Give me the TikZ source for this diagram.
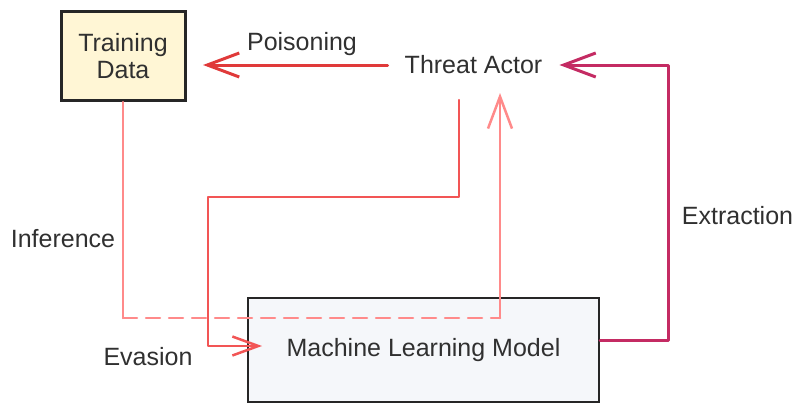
\documentclass[tikz,border=0pt]{standalone}
\usepackage{fontspec}
\setmainfont{Liberation Sans}
\usetikzlibrary{arrows.meta}
\definecolor{txt}{HTML}{303030}
\definecolor{poisoncol}{HTML}{E03A3A}
\definecolor{extractcol}{HTML}{C42B63}
\definecolor{evasioncol}{HTML}{F25555}
\definecolor{infercol}{HTML}{FF8A8A}
\definecolor{tdfill}{HTML}{FFF6D5}
\definecolor{mlfill}{HTML}{F5F7FA}
\tikzset{
  lbl/.style={text=txt, font=\fontsize{25}{30}\selectfont, inner sep=0pt},
  boxnode/.style={draw=black!85, text=txt, font=\fontsize{25}{30}\selectfont, align=center, inner sep=0pt},
  conn/.style={line cap=round, line join=round},
  bigtip/.style={-{Straight Barb[length=32pt,width=24pt]}},
  smalltip/.style={-{Straight Barb[length=26pt,width=19pt]}},
}
\begin{document}
\begin{tikzpicture}[x=1pt,y=-1pt]
\useasboundingbox (0,0) rectangle (794,404);
% nodes
\node[boxnode, fill=tdfill, line width=3pt, minimum width=124pt, minimum height=89pt] (td) at (123,56) {Training\\[-3pt]Data};
\node[lbl, inner xsep=17pt, inner ysep=10pt] (ta) at (473.5,65) {Threat Actor};
\node[boxnode, fill=mlfill, line width=2pt, minimum width=351pt, minimum height=104pt] (ml) at (423.5,350) {\raisebox{3pt}{Machine Learning Model}};
% labels
\node[lbl] (lpois) at (302,44) {Poisoning};
\node[lbl] (lext) at (737.5,216) {Extraction};
\node[lbl] (levas) at (148,357) {Evasion};
\node[lbl] (linf) at (63,239) {Inference};
% helper coordinates
\coordinate (ptip) at (203,0);
\coordinate (ex1) at (668,0);
\coordinate (ev1) at (459,100);
\coordinate (ev2) at (459,197);
\coordinate (ev3) at (208,197);
\coordinate (in1) at (123,318);
\coordinate (in2) at (500,318);
\coordinate (intip) at (500,93);
% Poisoning
\draw[conn, bigtip, poisoncol, line width=3pt] (ta.west) -- (ta.west -| ptip);
% Extraction
\draw[conn, bigtip, extractcol, line width=3pt] ([yshift=10pt]ml.east) -- ([yshift=10pt]ml.east -| ex1) -- (ta.east -| ex1) -- (ta.east);
% Evasion
\draw[conn, smalltip, evasioncol, line width=2.5pt] (ev1) -- (ev2) -- (ev3) -- ([yshift=4pt]ml.west -| ev3) -- ([xshift=15pt,yshift=4pt]ml.west);
% Inference
\draw[conn, infercol, line width=2.5pt] (td.south) -- (td.south |- in1);
\draw[conn, infercol, line width=2.5pt, dash pattern=on 14pt off 9pt] (td.south |- in1) -- (in2);
\draw[conn, bigtip, infercol, line width=2.5pt] (in2) -- (intip);
\end{tikzpicture}
\end{document}
